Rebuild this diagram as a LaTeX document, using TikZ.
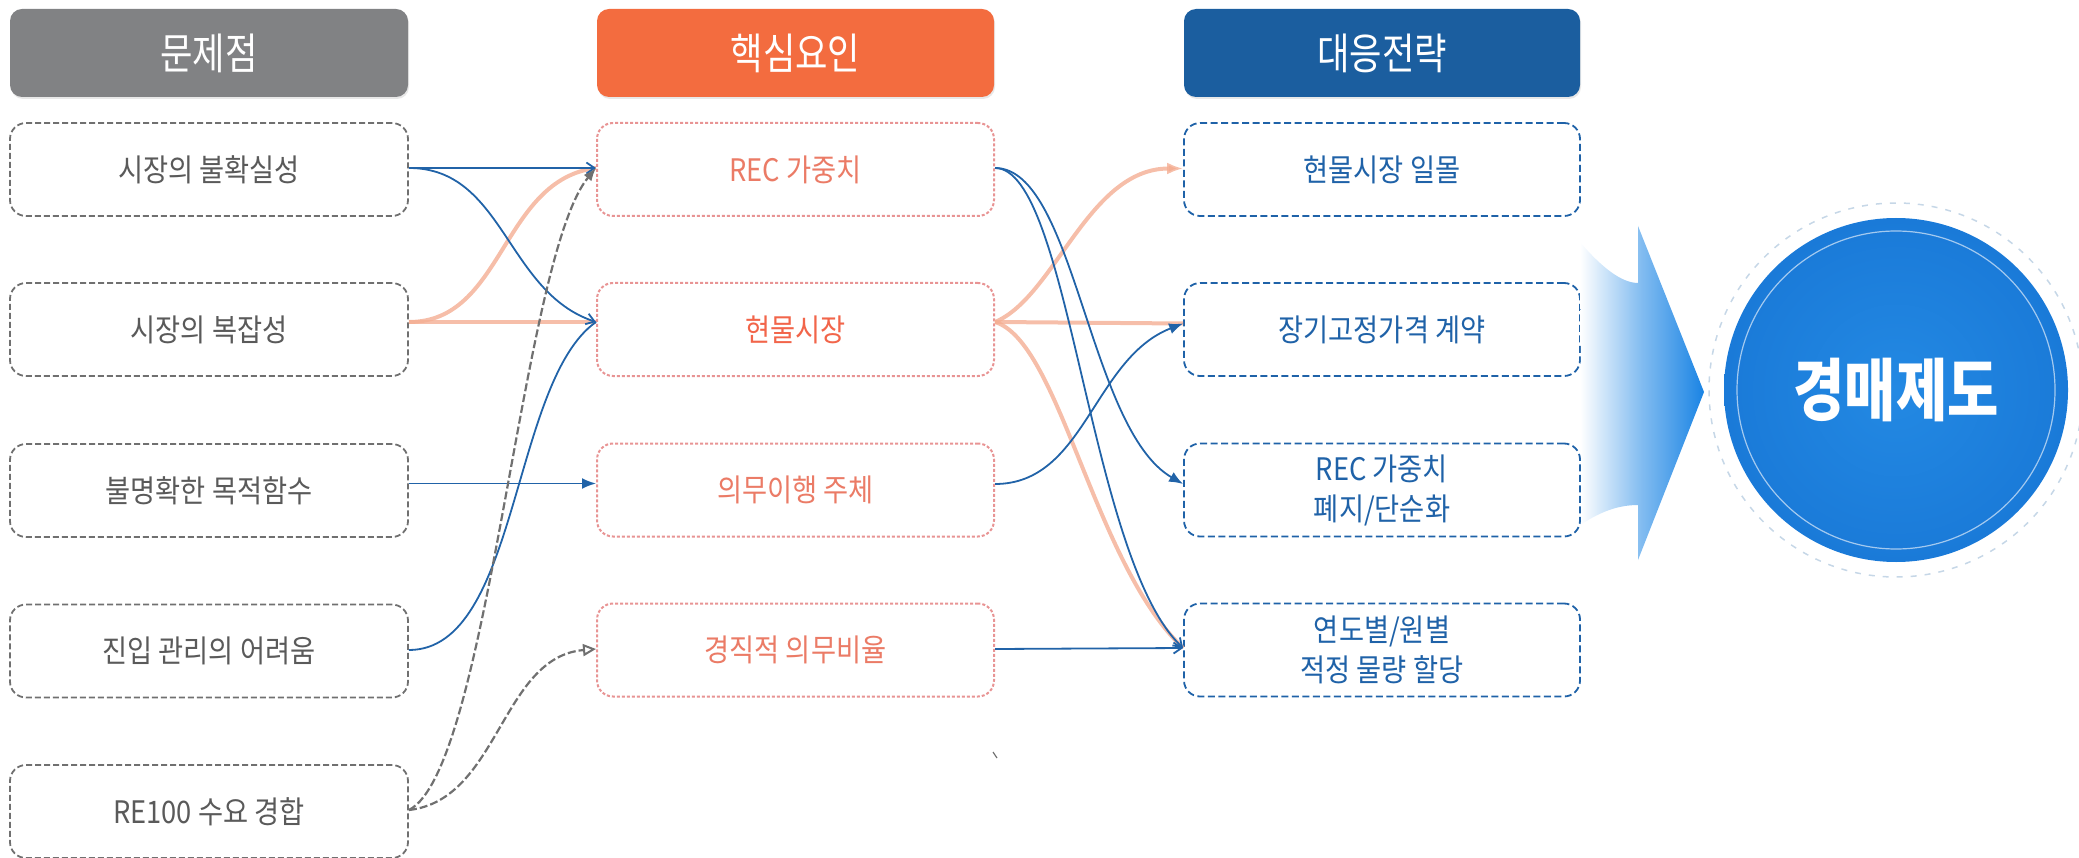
\documentclass[tikz,border=0pt]{standalone}
\usepackage{fontspec}
\newfontfamily\kr[FakeStretch=0.88]{Noto Sans CJK KR}
\newfontfamily\krw[FakeStretch=0.82]{Noto Sans CJK KR}
\usetikzlibrary{arrows.meta,calc,shadows}
\definecolor{hgray}{HTML}{818284}
\definecolor{horange}{HTML}{F36C3F}
\definecolor{hblue}{HTML}{1B5E9F}
\definecolor{lblue}{HTML}{2163A8}
\definecolor{lorange}{HTML}{F4AE93}
\definecolor{lgray}{HTML}{707070}
\definecolor{tgray}{HTML}{5A5A5A}
\definecolor{mred}{HTML}{E89494}
\definecolor{mtext}{HTML}{EB7B66}
\definecolor{mtextb}{HTML}{F2654A}
\definecolor{rblue}{HTML}{1F62A8}
\definecolor{cblue}{HTML}{2389E3}
\definecolor{cblued}{HTML}{1A7AD8}
\definecolor{ablue}{HTML}{1A84E4}
\begin{document}
\begin{tikzpicture}[x=1pt,y=-1pt,
  header/.style={rounded corners=12pt, minimum height=88pt, inner sep=0pt, text=white,
    font=\krw\fontsize{43}{48}\selectfont, drop shadow={opacity=0.18, shadow xshift=1pt, shadow yshift=-2pt}},
  boxbase/.style={rounded corners=16pt, minimum height=93pt, inner sep=0pt, align=center,
    font=\kr\fontsize{31}{40}\selectfont, fill=white},
  lbox/.style={boxbase, draw=lgray, line width=1.8pt, dash pattern=on 6pt off 3pt, minimum width=398pt, text=tgray},
  mbox/.style={boxbase, draw=mred, line width=2pt, dash pattern=on 3pt off 2pt, minimum width=397pt, text=mtext},
  rbox/.style={boxbase, draw=rblue, line width=1.8pt, dash pattern=on 7pt off 3.5pt, minimum width=396pt, text=rblue},
  bl/.style={draw=lblue, line width=1.8pt},
  ol/.style={draw=lorange, line width=4pt, draw opacity=0.8},
  gl/.style={draw=lgray, line width=2.2pt, dash pattern=on 8pt off 3pt},
  tipfill/.style={-{Latex[length=14pt,width=11pt]}},
  tipbarb/.style={-{Straight Barb[length=8pt,width=11pt]}},
  tipopen/.style={-{Triangle[open,length=13pt,width=12pt,line width=2pt]}}
]
\useasboundingbox (0,0) rectangle (2079,858);

% headers
\node[header, fill=hgray, minimum width=398pt] (H1) at (209,53) {문제점};
\node[header, fill=horange, minimum width=397pt] (H2) at (795.5,53) {핵심요인};
\node[header, fill=hblue, minimum width=396pt] (H3) at (1382,53) {대응전략};

% left column
\node[lbox] (L1) at (209,169.5) {시장의 불확실성};
\node[lbox] (L2) at (209,329.5) {시장의 복잡성};
\node[lbox] (L3) at (209,490.5) {불명확한 목적함수};
\node[lbox] (L4) at (209,651) {진입 관리의 어려움};
\node[lbox] (L5) at (209,811.5) {RE100 수요 경합};

% middle column
\node[mbox] (M1) at (795.5,169.5) {REC 가중치};
\node[mbox, text=mtextb] (M2) at (795.5,329.5) {현물시장};
\node[mbox] (M3) at (795.5,490) {의무이행 주체};
\node[mbox] (M4) at (795.5,650) {경직적 의무비율};

% right column
\node[rbox] (R1) at (1382,169.5) {현물시장 일몰};
\node[rbox] (R2) at (1382,329.5) {장기고정가격 계약};
\node[rbox] (R3) at (1382,490) {REC 가중치\\폐지/단순화};
\node[rbox] (R4) at (1382,650) {연도별/원별\\적정 물량 할당};

% anchor points
\coordinate (L1e) at ([yshift=1.5pt]L1.east);
\coordinate (L2e) at ([yshift=7.5pt]L2.east);
\coordinate (L3e) at ([yshift=7pt]L3.east);
\coordinate (L4e) at ([yshift=1pt]L4.east);
\coordinate (L5e) at ([yshift=1.5pt]L5.east);
\coordinate (M1w) at ([yshift=1.5pt]M1.west);
\coordinate (M2w) at ([yshift=7.5pt]M2.west);
\coordinate (M3w) at ([yshift=6.5pt]M3.west);
\coordinate (M4w) at ([yshift=1pt]M4.west);
\coordinate (M1e) at ([yshift=1.5pt]M1.east);
\coordinate (M2e) at ([yshift=7.5pt]M2.east);
\coordinate (M3e) at ([yshift=6pt]M3.east);
\coordinate (M4e) at ([yshift=1pt]M4.east);
\coordinate (R1w) at ([yshift=1pt]R1.west);
\coordinate (R2w) at ([yshift=6pt]R2.west);
\coordinate (R3w) at ([yshift=6pt]R3.west);
\coordinate (R4w) at ([yshift=2pt]R4.west);

% left -> middle
\draw[ol] (L2e) .. controls +(95,0) and +(-95,12) .. (M1w);
\draw[ol] (L2e) -- (M2w);
\draw[bl, tipbarb] (L1e) -- (M1w);
\draw[bl, tipbarb] (L1e) .. controls +(95,0) and +(-90,-30) .. (M2w);
\draw[bl] (L4e) .. controls +(110,0) and +(-85,60) .. (M2w);
\draw[bl, tipfill] (L3e) -- (M3w);
\draw[gl, -{Latex[length=13pt,width=10pt]}] (L5e) .. controls +(80,-40) and +(-75,90) .. (M1w);
\draw[gl, tipopen] (L5e) .. controls +(90,-10) and +(-95,8) .. (M4w);

% middle -> right
\draw[ol, -{Latex[length=16pt,width=12pt]}] (M2e) .. controls +(60,-25) and +(-95,0) .. (R1w);
\draw[ol] (M2e) -- (R2w);
\draw[ol] (M2e) .. controls +(65,20) and +(-90,-85) .. (R4w);
\draw[bl, tipfill] (M1e) .. controls +(80,0) and +(-95,-55) .. (R3w);
\draw[bl, tipbarb] (M1e) .. controls +(75,0) and +(-95,-90) .. (R4w);
\draw[bl, tipfill] (M3e) .. controls +(90,0) and +(-90,35) .. (R2w);
\draw[bl, tipbarb] (M4e) -- (R4w);

% stray mark
\draw[lgray, line width=1.2pt] (993,752) -- (997,758);

% big arrow
\path[left color=white, right color=ablue, middle color=ablue!55]
  (1580,242) .. controls (1602,268) and (1622,283) .. (1638,283)
  -- (1638,226) -- (1704,392) -- (1638,560) -- (1638,505)
  .. controls (1618,505) and (1600,512) .. (1582,524) -- cycle;

% circle
\node[circle, minimum size=374pt, draw=hblue!25, line width=1.5pt, dash pattern=on 6pt off 8pt] (CO) at (1896,390) {};
\node[circle, minimum size=344pt, inner sep=0pt, inner color=cblue, outer color=cblued,
  text=white, font=\krw\bfseries\fontsize{68}{74}\selectfont] (C) at (1896,390) {경매제도};
\draw[white, opacity=0.6, line width=1.2pt] (C.center) circle[radius=159pt];
\end{tikzpicture}
\end{document}
